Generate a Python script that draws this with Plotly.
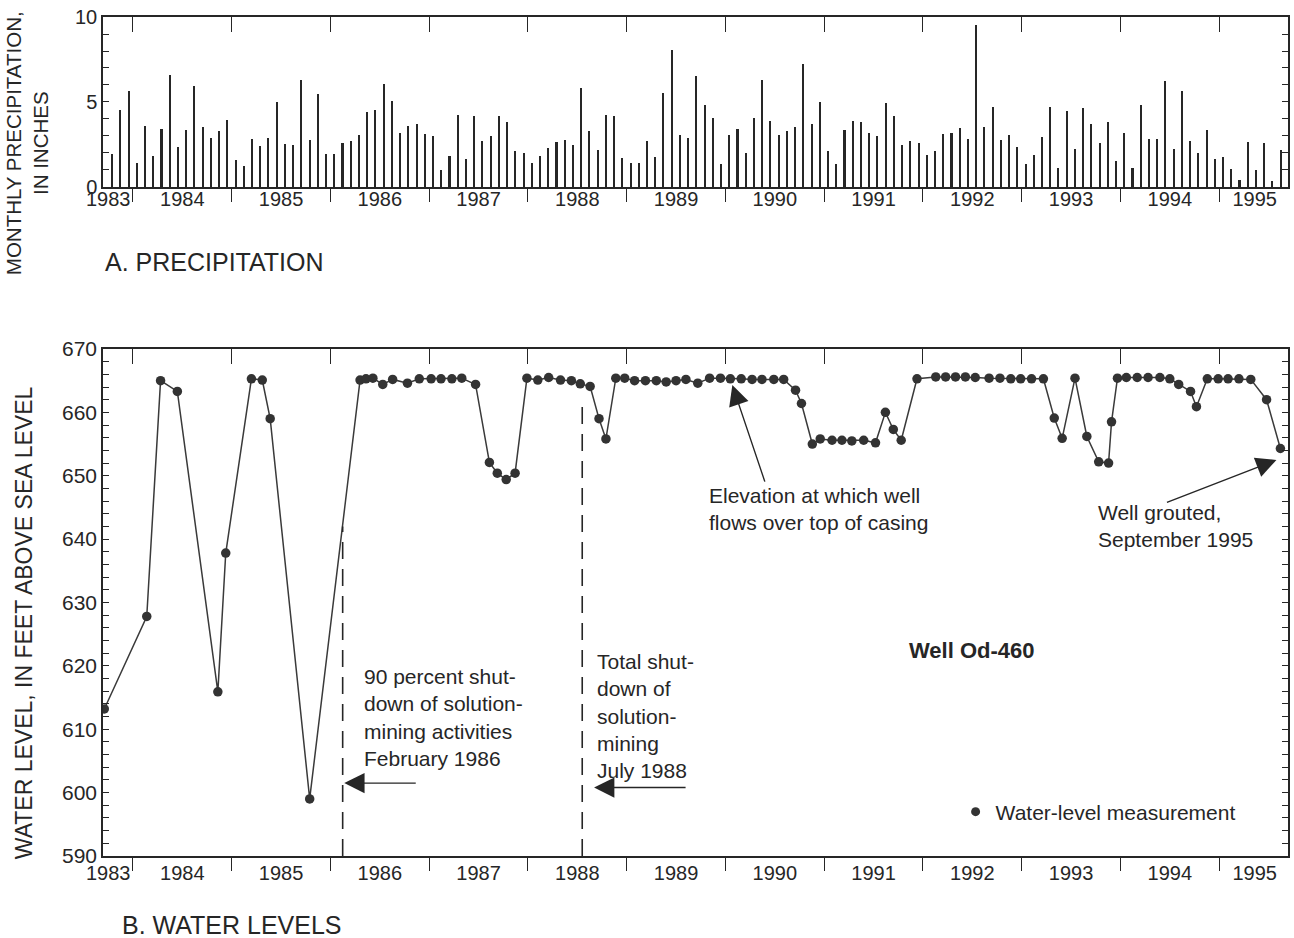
import plotly.graph_objects as go

# ---------------- data ----------------
# Monthly precipitation, inches, October 1983 through August 1995
precip_start_year = 1983
precip_start_month = 10
precip_in = [
    1.92, 4.55, 5.63,
    1.43, 3.59, 1.82, 3.39, 6.57, 2.35, 3.33, 5.92, 3.53, 2.88, 3.29, 3.96,
    1.57, 1.24, 2.84, 2.41, 2.88, 5.00, 2.51, 2.45, 6.27, 2.78, 5.49, 1.92,
    1.92, 2.59, 2.69, 3.04, 4.41, 4.51, 6.08, 5.06, 3.20, 3.59, 3.69, 3.14,
    3.00, 1.02, 1.80, 4.22, 1.67, 4.18, 2.69, 3.00, 4.18, 3.82, 2.10, 2.02,
    1.43, 1.82, 2.29, 2.65, 2.75, 2.45, 5.84, 3.29, 2.20, 4.25, 4.16, 1.71,
    1.43, 1.43, 2.69, 1.76, 5.53, 8.08, 3.04, 2.88, 6.53, 4.80, 4.08, 1.33,
    3.04, 3.39, 2.02, 4.08, 6.27, 3.86, 3.08, 3.27, 3.53, 7.25, 3.73, 5.00,
    2.10, 1.37, 3.33, 3.86, 3.82, 3.18, 3.00, 4.96, 4.18, 2.45, 2.69, 2.61,
    1.90, 2.10, 3.14, 3.20, 3.49, 2.84, 9.51, 3.53, 4.71, 2.78, 3.04, 2.35,
    1.37, 1.86, 2.94, 4.71, 1.12, 4.45, 2.25, 4.65, 3.73, 2.59, 3.82, 1.53,
    3.20, 1.14, 4.80, 2.84, 2.84, 6.22, 2.25, 5.63, 2.71, 2.00, 3.33, 1.63,
    1.76, 1.04, 0.43, 2.65, 0.98, 2.59, 0.33, 2.16,
]

# Water-level measurements (decimal year, feet above sea level)
wl_date = [
    1983.71, 1984.14, 1984.28, 1984.45, 1984.86, 1984.94, 1985.20, 1985.31,
    1985.39, 1985.79, 1986.30, 1986.36, 1986.43, 1986.53, 1986.63, 1986.78,
    1986.90, 1987.02, 1987.12, 1987.23, 1987.33, 1987.47, 1987.61, 1987.69,
    1987.78, 1987.87, 1987.99, 1988.10, 1988.21, 1988.33, 1988.44, 1988.53,
    1988.63, 1988.72, 1988.79, 1988.89, 1988.98, 1989.08, 1989.19, 1989.30,
    1989.40, 1989.50, 1989.60, 1989.72, 1989.84, 1989.95, 1990.05, 1990.16,
    1990.27, 1990.37, 1990.49, 1990.59, 1990.71, 1990.77, 1990.88, 1990.96,
    1991.08, 1991.18, 1991.28, 1991.40, 1991.52, 1991.62, 1991.70, 1991.78,
    1991.94, 1992.13, 1992.23, 1992.33, 1992.43, 1992.53, 1992.67, 1992.78,
    1992.89, 1992.99, 1993.10, 1993.22, 1993.33, 1993.41, 1993.54, 1993.66,
    1993.78, 1993.88, 1993.91, 1993.97, 1994.06, 1994.17, 1994.28, 1994.40,
    1994.50, 1994.59, 1994.71, 1994.77, 1994.88, 1994.99, 1995.09, 1995.20,
    1995.32, 1995.48, 1995.62,
]
wl_ft = [
    613.2, 627.8, 665.0, 663.3, 615.9, 637.8, 665.3, 665.1,
    659.0, 599.0, 665.1, 665.3, 665.4, 664.4, 665.2, 664.6,
    665.3, 665.3, 665.3, 665.3, 665.4, 664.4, 652.1, 650.4,
    649.4, 650.4, 665.4, 665.1, 665.5, 665.1, 665.0, 664.5,
    664.1, 659.0, 655.8, 665.4, 665.4, 665.0, 665.0, 665.0,
    664.8, 665.0, 665.2, 664.6, 665.4, 665.4, 665.3, 665.3,
    665.2, 665.2, 665.2, 665.2, 663.5, 661.4, 655.0, 655.8,
    655.6, 655.6, 655.5, 655.6, 655.2, 660.0, 657.3, 655.6,
    665.3, 665.6, 665.6, 665.6, 665.6, 665.5, 665.4, 665.4,
    665.3, 665.3, 665.3, 665.3, 659.1, 655.9, 665.4, 656.2,
    652.2, 652.0, 658.5, 665.4, 665.5, 665.5, 665.5, 665.5,
    665.3, 664.4, 663.3, 660.9, 665.3, 665.3, 665.3, 665.3,
    665.2, 662.0, 654.3,
]

year_bounds = list(range(1984, 1996))
year_labels = [str(y) for y in range(1983, 1996)]
year_label_pos = [1983.75] + [y + 0.5 for y in range(1984, 1995)] + [1995.36]
x_range = [1983.697, 1995.697]

event_dates = [1986.124, 1988.55]      # Feb 1986, July 1988
event_tops = [642, 661]

# ---------------- figure ----------------
INK = "#262626"
FONT = "Liberation Sans, Arial, Helvetica, sans-serif"

precip_x = []
for i in range(len(precip_in)):
    m = precip_start_month - 1 + i
    yr = precip_start_year + m // 12
    mo = m % 12
    precip_x.append(yr + (mo + 0.5) / 12)

fig = go.Figure()
fig.add_trace(go.Bar(x=precip_x, y=precip_in, width=0.016,
                     marker=dict(color=INK, line=dict(width=0)),
                     xaxis="x", yaxis="y", showlegend=False))
fig.add_trace(go.Scatter(x=wl_date, y=wl_ft, mode="lines+markers",
                         line=dict(color="#3a3a3a", width=1.5),
                         marker=dict(color="#333333", size=9.5),
                         xaxis="x2", yaxis="y2", showlegend=False))
fig.add_trace(go.Scatter(x=[None], y=[None], mode="markers",
                         marker=dict(color="#333333", size=9),
                         name="Water-level measurement",
                         xaxis="x2", yaxis="y2", showlegend=True))
# helper traces so that the top tick axes exist
fig.add_trace(go.Scatter(x=[None], y=[None], xaxis="x3", yaxis="y", showlegend=False))
fig.add_trace(go.Scatter(x=[None], y=[None], xaxis="x4", yaxis="y2", showlegend=False))


def bottom_x(standoff):
    return dict(
        range=x_range, tickmode="array", tickvals=year_label_pos, ticktext=year_labels,
        ticks="outside", ticklen=0, ticklabelstandoff=standoff,
        tickfont=dict(size=20, color=INK, family=FONT),
        minor=dict(tickmode="array", tickvals=year_bounds, ticks="outside", ticklen=13,
                   tickwidth=1.3, tickcolor=INK),
        showline=True, linecolor=INK, linewidth=1.5, mirror=True,
        showgrid=False, zeroline=False,
    )


top_x = dict(
    range=x_range, tickmode="array", tickvals=year_bounds, ticks="inside", ticklen=15,
    tickwidth=1.3, tickcolor=INK, showticklabels=False, showline=False,
    showgrid=False, zeroline=False, side="top",
)

p_ticks = list(range(0, 11))
w_ticks = list(range(590, 671, 2))

fig.update_layout(
    width=1294, height=938,
    margin=dict(l=103, r=4, t=17, b=82),
    paper_bgcolor="white", plot_bgcolor="white",
    font=dict(family=FONT, color=INK, size=20),
    bargap=0,
    xaxis=dict(domain=[0, 1], anchor="y", **bottom_x(-7)),
    xaxis2=dict(domain=[0, 1], anchor="y2", **bottom_x(-2)),
    xaxis3=dict(overlaying="x", anchor="y", **top_x),
    xaxis4=dict(overlaying="x2", anchor="y2", **top_x),
    yaxis=dict(domain=[0.7974, 1], range=[0, 10], tickmode="array", tickvals=p_ticks,
               ticktext=[str(v) if v % 5 == 0 else "" for v in p_ticks],
               ticks="inside", ticklen=6, tickwidth=1.2, tickcolor=INK,
               showline=True, linecolor=INK, linewidth=1.5, mirror="ticks",
               showgrid=False, zeroline=False,
               tickfont=dict(size=20, color=INK, family=FONT)),
    yaxis2=dict(domain=[0, 0.6043], range=[590, 670], tickmode="array", tickvals=w_ticks,
                ticktext=[str(v) if v % 10 == 0 else "" for v in w_ticks],
                ticks="inside", ticklen=6, tickwidth=1.2, tickcolor=INK,
                showline=True, linecolor=INK, linewidth=1.5, mirror="ticks",
                showgrid=False, zeroline=False,
                tickfont=dict(size=21, color=INK, family=FONT)),
    legend=dict(x=0.7195, xanchor="left", y=0.0524, yanchor="middle",
                bgcolor="rgba(0,0,0,0)", font=dict(size=21, color=INK, family=FONT),
                itemwidth=30),
)

for xd, yt in zip(event_dates, event_tops):
    fig.add_shape(type="line", xref="x2", yref="y2", x0=xd, x1=xd, y0=590, y1=yt,
                  line=dict(color=INK, width=1.6, dash="17px,10px"))

arrow = dict(showarrow=True, arrowhead=2, arrowsize=2.9, arrowwidth=1.4,
             arrowcolor=INK, text="", standoff=0, axref="pixel", ayref="pixel")
fig.add_annotation(xref="x2", yref="y2", x=1986.14, y=601.5, ax=73, ay=0, **arrow)
fig.add_annotation(xref="x2", yref="y2", x=1988.67, y=600.8, ax=93, ay=0, **arrow)
fig.add_annotation(xref="x2", yref="y2", x=1990.07, y=664.3, ax=33, ay=98, **arrow)
fig.add_annotation(xref="x2", yref="y2", x=1995.58, y=652.5, ax=-111, ay=43, **arrow)

txt = dict(showarrow=False, xanchor="left", yanchor="middle", align="left",
           font=dict(size=21, color=INK, family=FONT))
fig.add_annotation(xref="x2", yref="y2", x=1986.316, y=611.8,
                   text="90 percent shut-<br>down of solution-<br>mining activities<br>February 1986", **txt)
fig.add_annotation(xref="x2", yref="y2", x=1988.682, y=612.1,
                   text="Total shut-<br>down of<br>solution-<br>mining<br>July 1988", **txt)
fig.add_annotation(xref="x2", yref="y2", x=1989.814, y=644.8,
                   text="Elevation at which well<br>flows over top of casing", **txt)
fig.add_annotation(xref="x2", yref="y2", x=1993.748, y=642.0,
                   text="Well grouted,<br>September 1995", **txt)
fig.add_annotation(xref="x2", yref="y2", x=1991.836, y=622.5, showarrow=False,
                   xanchor="left", yanchor="middle",
                   text="<b>Well Od-460</b>", font=dict(size=22, color=INK, family=FONT))

fig.add_annotation(xref="paper", yref="paper", x=-0.064, y=0.8498, showarrow=False,
                   textangle=-90, xanchor="center", yanchor="middle",
                   text="MONTHLY PRECIPITATION,<br>IN INCHES",
                   font=dict(size=20.5, color=INK, family=FONT))
fig.add_annotation(xref="paper", yref="paper", x=-0.0665, y=0.2777, showarrow=False,
                   textangle=-90, xanchor="center", yanchor="middle",
                   text="WATER LEVEL, IN FEET ABOVE SEA LEVEL",
                   font=dict(size=23, color=INK, family=FONT))
fig.add_annotation(xref="paper", yref="paper", x=0.0, y=0.708, showarrow=False,
                   xanchor="left", yanchor="middle", text="A. PRECIPITATION",
                   font=dict(size=25, color=INK, family=FONT))
fig.add_annotation(xref="paper", yref="paper", x=0.0143, y=-0.0822, showarrow=False,
                   xanchor="left", yanchor="middle", text="B. WATER LEVELS",
                   font=dict(size=25, color=INK, family=FONT))

fig.write_html("out.html")
